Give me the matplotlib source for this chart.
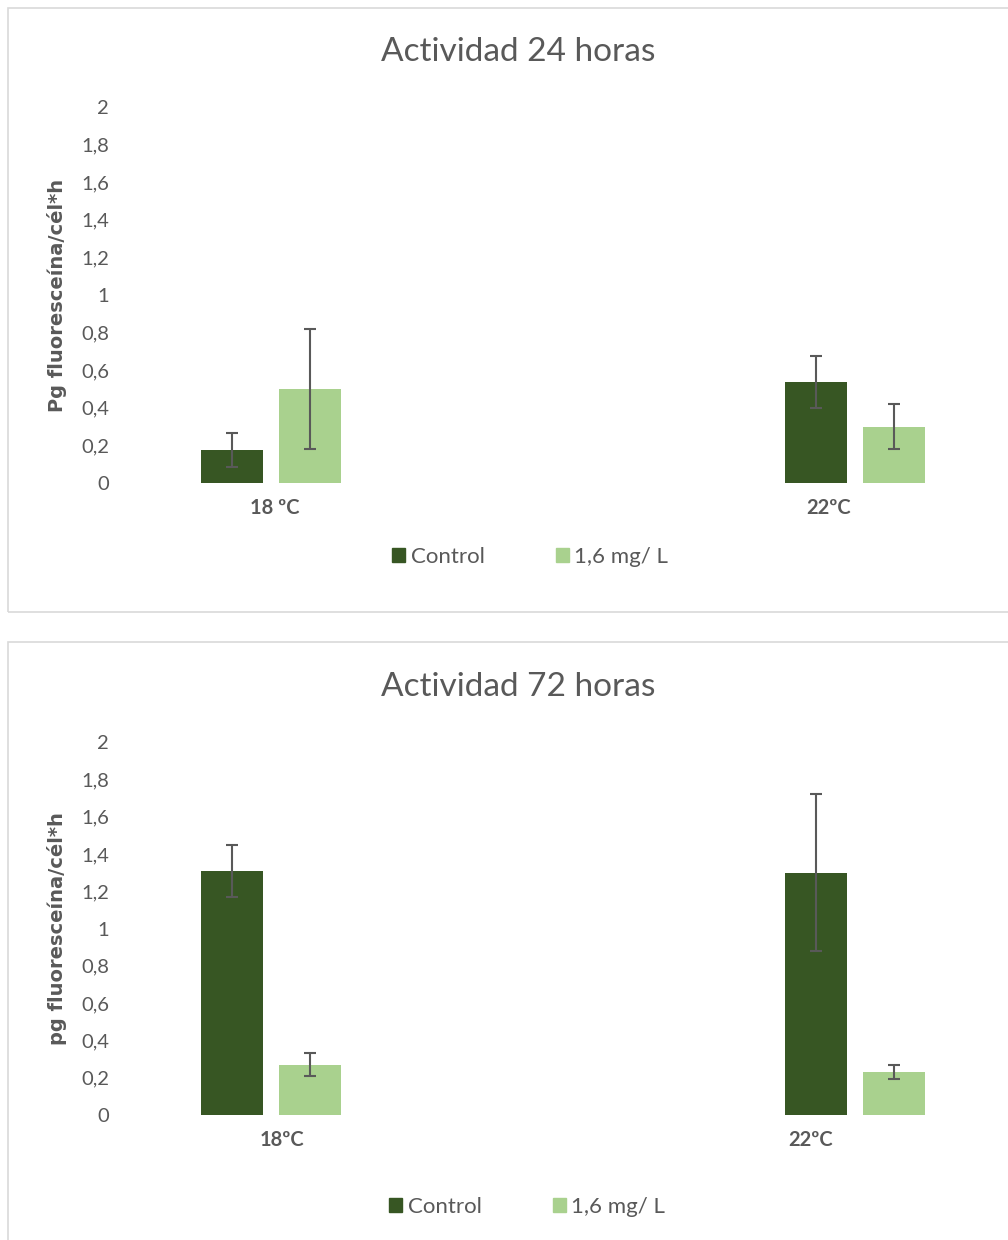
import matplotlib.pyplot as plt
from matplotlib.patches import Rectangle, Patch
from matplotlib.ticker import FuncFormatter

# data
series = ['Control', '1,6 mg/ L']
cats_24 = ['18 ºC', '22ºC']
control_24 = [0.175, 0.537]
control_24_err = [0.09, 0.14]
dose_24 = [0.50, 0.30]
dose_24_err = [0.32, 0.12]

cats_72 = ['18ºC', '22ºC']
control_72 = [1.31, 1.30]
control_72_err = [0.14, 0.42]
dose_72 = [0.27, 0.23]
dose_72_err = [0.06, 0.037]

dark = '#375623'
light = '#a9d18e'
grey = '#595959'

plt.rcParams['font.family'] = ['Lato', 'DejaVu Sans']

fig = plt.figure(figsize=(10.08, 12.4), dpi=100)
W, H = 1008, 1240

# chart frames
fig.patches.append(Rectangle((8 / W, 1 - 612 / H), 1.2, 604 / H, transform=fig.transFigure,
                             fill=False, edgecolor='#d9d9d9', lw=1.2))
fig.patches.append(Rectangle((8 / W, -0.1), 1.2, 1 - 642 / H + 0.1, transform=fig.transFigure,
                             fill=False, edgecolor='#d9d9d9', lw=1.2))


def panel(bottom_px, top_px, title, ylabel, cats, c, ce, d, de, label_pos, title_y, leg_y, leg_x):
    ax = fig.add_axes([120 / W, 1 - bottom_px / H, 880 / W, (bottom_px - top_px) / H])
    x = range(len(cats))
    off = 0.0668
    w = 0.106
    ekw = dict(ecolor=grey, elinewidth=1.5, capsize=4.5, capthick=1.5)
    ax.bar([i - off for i in x], c, width=w, color=dark, yerr=ce, error_kw=ekw)
    ax.bar([i + off for i in x], d, width=w, color=light, yerr=de, error_kw=ekw)
    ax.set_xlim(-0.2586, 1.248)
    ax.set_ylim(0, 2)
    ax.set_yticks([i / 5 for i in range(11)])
    ax.yaxis.set_major_formatter(FuncFormatter(lambda v, p: ('%g' % round(v, 1)).replace('.', ',')))
    ax.set_xticks(label_pos)
    ax.set_xticklabels(cats, fontsize=16, fontweight='bold', color=grey)
    ax.tick_params(length=0, labelsize=14.5, labelcolor=grey, pad=8)
    ax.tick_params(axis='x', pad=11)
    for s in ax.spines.values():
        s.set_visible(False)
    ax.set_ylabel(ylabel, fontsize=14, fontweight='bold', color=grey, family='DejaVu Sans', labelpad=10)
    fig.text(518 / W, 1 - title_y / H, title, ha='center', va='center', fontsize=24, color=grey)
    handles = [Patch(color=dark, label=series[0]), Patch(color=light, label=series[1])]
    fig.legend(handles=handles, loc='center', bbox_to_anchor=(leg_x / W, 1 - leg_y / H), ncol=2,
               frameon=False, fontsize=16, handlelength=0.6, handleheight=0.6, handletextpad=0.25,
               columnspacing=3.2, labelcolor=grey)
    return ax


panel(483, 107, 'Actividad 24 horas', 'Pg fluoresceína/cél*h', cats_24,
      control_24, control_24_err, dose_24, dose_24_err, [0.007, 0.955], 52, 557, 530)
panel(1115, 742, 'Actividad 72 horas', 'pg fluoresceína/cél*h', cats_72,
      control_72, control_72_err, dose_72, dose_72_err, [0.019, 0.923], 687, 1207, 527)

fig.savefig('out.png', dpi=100)
